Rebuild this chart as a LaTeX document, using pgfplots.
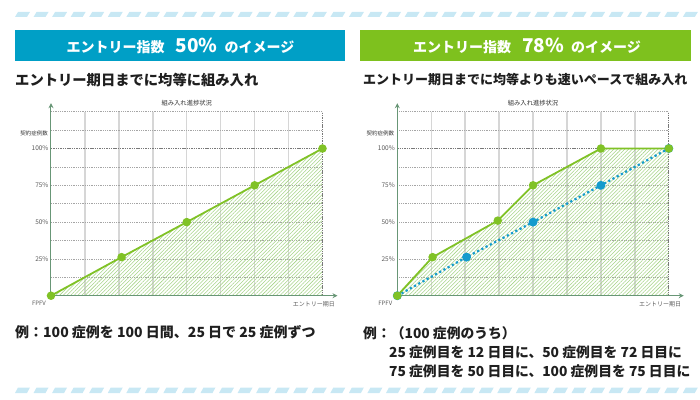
\documentclass[border=0pt]{standalone}
\usepackage{pgfplots}
\pgfplotsset{compat=1.18}
\usepackage{fontspec}
\setmainfont{Noto Sans CJK JP}
\usetikzlibrary{patterns.meta,arrows.meta}
\definecolor{bannerteal}{RGB}{0,159,198}
\definecolor{bannergreen}{RGB}{126,193,30}
\definecolor{lgreen}{RGB}{128,194,38}
\definecolor{lblue}{RGB}{20,155,205}
\definecolor{hatchc}{RGB}{165,212,135}
\definecolor{stripec}{RGB}{200,232,244}
\definecolor{axisc}{RGB}{104,150,118}
\definecolor{vgrid}{RGB}{214,214,214}
\definecolor{hgrid}{RGB}{165,165,165}
\definecolor{dgrid}{RGB}{120,120,120}
\definecolor{labc}{RGB}{90,90,90}

\newcommand{\gridlines}{%
  \pgfplotsinvokeforeach{12.5,25,37.5,50,62.5,75,87.5}{%
    \draw[vgrid, line width=1.4pt] (axis cs:##1,0) -- (axis cs:##1,125);}%
  \pgfplotsinvokeforeach{12.5,25,37.5,50,62.5,75,87.5,112.5,125}{%
    \draw[hgrid, line width=0.6pt, dash pattern=on 1pt off 0.8pt] (axis cs:0,##1) -- (axis cs:100,##1);}%
}
\newcommand{\borderlines}{%
  \draw[dgrid, line width=0.8pt, dash pattern=on 1.4pt off 0.9pt] (axis cs:0,100) -- (axis cs:100,100);
  \draw[dgrid, line width=0.8pt, dash pattern=on 1.4pt off 0.9pt] (axis cs:100,0) -- (axis cs:100,125);
}
\pgfplotsset{
  myaxis/.style={
    scale only axis, width=271.5pt, height=184pt,
    xmin=0, xmax=100, ymin=0, ymax=125,
    axis lines=left,
    axis line style={draw=axisc, line width=1pt},
    x axis line style={-{Stealth[length=5pt,width=5pt]}, shorten >=-15pt},
    y axis line style={-{Stealth[length=5pt,width=5pt]}, shorten >=-8.5pt},
    xtick=\empty, ytick={25,50,75,100}, yticklabels={25\%,50\%,75\%,100\%},
    major tick length=0pt,
    yticklabel style={font=\fontsize{6.5}{7}\selectfont, text=labc, xshift=1pt},
    title={組み入れ進捗状況},
    title style={font=\fontsize{6.3}{7}\selectfont, text=black!80, at={(axis description cs:0.5,1)}, anchor=south, yshift=-3.5pt},
    clip=false, axis on top,
  },
  hatch/.style={draw=none, pattern={Lines[angle=45,distance=2.6pt,line width=0.55pt]}, pattern color=hatchc},
  gline/.style={lgreen, line width=1.8pt, mark=*, mark size=3.3pt, mark options={fill=lgreen, draw=lgreen, solid}},
  bline/.style={lblue, line width=2.2pt, dash pattern=on 2.2pt off 2.6pt, mark=*, mark size=3.3pt, mark options={fill=lblue, draw=lblue, solid}},
}

\begin{document}
\begin{tikzpicture}[x=1pt,y=1pt]
\path[use as bounding box] (0,0) rectangle (700,399);
% stripes
\foreach \i in {0,...,36}{
  \fill[stripec] ({15+18.55*\i},382) -- ++(12,0) -- ++(3,5) -- ++(-12,0) -- cycle;
  \fill[stripec] ({15+18.55*\i},6) -- ++(12,0) -- ++(3,5.5) -- ++(-12,0) -- cycle;
}
% banners
\fill[bannerteal] (15,338) rectangle (345,369);
\fill[bannergreen] (360,338) rectangle (691,369);
\node[text=white, font=\bfseries\fontsize{14}{14}\selectfont, inner sep=0] at (180.5,353.5)
  {エントリー指数\hspace{11pt}{\fontsize{19}{19}\selectfont 50\%}\hspace{7pt}のイメージ};
\node[text=white, font=\bfseries\fontsize{14}{14}\selectfont, inner sep=0] at (527,353.5)
  {エントリー指数\hspace{11pt}{\fontsize{19}{19}\selectfont 78\%}\hspace{7pt}のイメージ};
% subtitles
\node[anchor=west, inner sep=0, font=\bfseries\fontsize{14.3}{14}\selectfont, text=black!88] at (15,319)
  {エントリー期日までに均等に組み入れ};
\node[anchor=west, inner sep=0, font=\bfseries\fontsize{13}{13}\selectfont, text=black!88] at (363,319)
  {エントリー期日までに均等よりも速いペースで組み入れ};
% bottom texts
\node[anchor=west, inner sep=0, font=\bfseries\fontsize{14}{14}\selectfont, text=black!88] at (15,67)
  {例：100 症例を 100 日間、25 日で 25 症例ずつ};
\node[anchor=west, inner sep=0, font=\bfseries\fontsize{13.8}{14}\selectfont, text=black!88] at (363,66)
  {例：（100 症例のうち）};
\node[anchor=west, inner sep=0, font=\bfseries\fontsize{13.8}{14}\selectfont, text=black!88] at (389,46.5)
  {25 症例目を 12 日目に、50 症例目を 72 日目に};
\node[anchor=west, inner sep=0, font=\bfseries\fontsize{13.8}{14}\selectfont, text=black!88] at (389,27.5)
  {75 症例目を 50 日目に、100 症例目を 75 日目に};

% left chart
\begin{axis}[myaxis, at={(51pt,103.3pt)}, anchor=south west]
\gridlines
\addplot[hatch] coordinates {(0,0) (26,26.2) (50,50) (75,75) (100,100)} \closedcycle;
\borderlines
\addplot[gline] coordinates {(0,0) (26,26.2) (50,50) (75,75) (100,100)};
\node[anchor=east, inner sep=0, font=\fontsize{5.5}{6}\selectfont, text=black!80] at (axis cs:0,110) [xshift=-3pt] {契約症例数};
\node[inner sep=0, font=\fontsize{6}{6}\selectfont, text=labc] at (axis cs:0,0) [xshift=-12pt, yshift=-7.5pt] {FPFV};
\node[inner sep=0, font=\fontsize{6}{6}\selectfont, text=labc] at (axis cs:100,0) [xshift=-8.7pt, yshift=-8.3pt] {エントリー期日};
\end{axis}

% right chart
\begin{axis}[myaxis, at={(397.3pt,103.3pt)}, anchor=south west]
\gridlines
\addplot[hatch] coordinates {(0,0) (13,26.2) (37,51) (50,75) (75,100) (100,100)} \closedcycle;
\borderlines
\addplot[bline] coordinates {(0,0) (25.5,26.2) (50,50) (75,75) (100,100)};
\addplot[gline] coordinates {(0,0) (13,26.2) (37,51) (50,75) (75,100) (100,100)};
\node[anchor=east, inner sep=0, font=\fontsize{5.5}{6}\selectfont, text=black!80] at (axis cs:0,110) [xshift=-3pt] {契約症例数};
\node[inner sep=0, font=\fontsize{6}{6}\selectfont, text=labc] at (axis cs:0,0) [xshift=-12pt, yshift=-7.5pt] {FPFV};
\node[inner sep=0, font=\fontsize{6}{6}\selectfont, text=labc] at (axis cs:100,0) [xshift=-8.7pt, yshift=-8.3pt] {エントリー期日};
\end{axis}
\end{tikzpicture}
\end{document}
